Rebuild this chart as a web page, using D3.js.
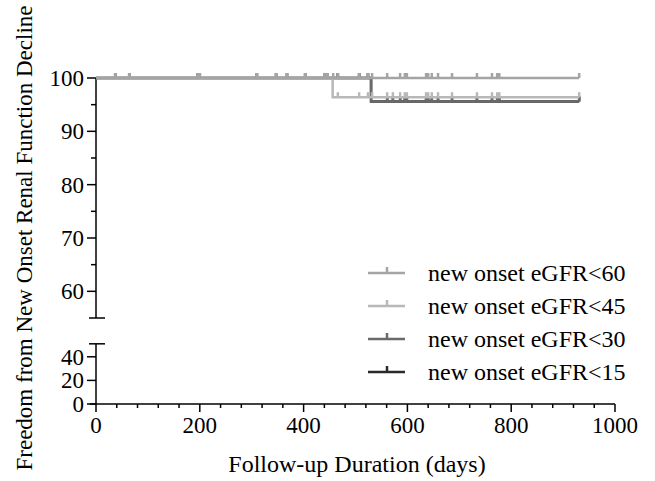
<!DOCTYPE html>
<html>
<head>
<meta charset="utf-8">
<script src="https://cdn.jsdelivr.net/npm/d3@7"></script>
<style>
  body { margin: 0; background: #fff; }
  svg { display: block; font-family: "Liberation Serif", "DejaVu Serif", serif; }
</style>
</head>
<body>
<svg id="chart" width="655" height="481"></svg>
<script>
var width = 655, height = 481

// series labels (legend order)
var labels = ['new onset eGFR<60', 'new onset eGFR<45', 'new onset eGFR<30', 'new onset eGFR<15']

// KM step points [day, survival %] for each series
var steps60 = [[0, 100], [931, 100]]
var steps45 = [[0, 100], [456, 96.4], [931, 96.4]]
var steps30 = [[0, 100], [530, 95.6], [931, 95.6]]
var steps15 = [[0, 100], [530, 95.6], [931, 95.6]]

// censored observations (days)
var censor60 = [37, 64, 196, 200, 310, 347, 368, 403, 441, 446, 457, 466, 507, 524, 532, 561, 586, 595, 599, 636, 640, 647, 659, 686, 734, 763, 773, 777, 931]
var censor45 = [37, 64, 196, 200, 310, 347, 368, 403, 441, 446, 466, 507, 524, 532, 561, 572, 586, 595, 599, 636, 640, 647, 659, 686, 734, 763, 773, 777, 931]
var censor30 = [37, 64, 196, 200, 310, 347, 368, 403, 441, 446, 466, 507, 524, 561, 572, 586, 595, 599, 636, 640, 647, 659, 686, 734, 763, 773, 777, 931]
var censor15 = [37, 64, 196, 200, 310, 347, 368, 403, 441, 446, 466, 507, 524, 561, 572, 586, 595, 599, 636, 640, 647, 659, 686, 734, 763, 773, 777, 931]

var xTicks = [0, 200, 400, 600, 800, 1000]
var yTicksTop = [60, 70, 80, 90, 100]
var yTicksBot = [0, 20, 40]

var colors = ['#a4a4a4', '#b8b8b8', '#6a6a6a', '#2a2a2a']

var series = [
  {label: labels[0], steps: steps60, censor: censor60, color: colors[0]},
  {label: labels[1], steps: steps45, censor: censor45, color: colors[1]},
  {label: labels[2], steps: steps30, censor: censor30, color: colors[2]},
  {label: labels[3], steps: steps15, censor: censor15, color: colors[3]}
]

var svg = d3.select('#chart')

var x = d3.scaleLinear().domain([0, 1000]).range([96, 615])
var yTop = d3.scaleLinear().domain([55, 100]).range([318, 78])
var yBot = d3.scaleLinear().domain([0, 50]).range([404, 345])

function survAt(steps, t) {
  var s = steps[0][1]
  steps.forEach(function(p) { if (p[0] <= t) s = p[1] })
  return s
}

// x axis
var xAxis = svg.append('g').attr('transform', 'translate(0,404)')
xAxis.append('line').attr('x1', x(0) - 6).attr('x2', x(1000)).attr('stroke', '#000').attr('stroke-width', 1.5)
xAxis.selectAll('.minor').data(d3.range(0, 1001, 40)).enter()
  .append('line')
  .attr('x1', d => x(d)).attr('x2', d => x(d))
  .attr('y1', 0).attr('y2', d => xTicks.indexOf(d) >= 0 ? 8 : 4)
  .attr('stroke', '#000').attr('stroke-width', 1.5)
xAxis.selectAll('.lab').data(xTicks).enter()
  .append('text')
  .attr('x', d => x(d)).attr('y', 29)
  .attr('text-anchor', 'middle')
  .style('font-size', '23px')
  .text(d => d)

// y axis upper segment
var yA = svg.append('g')
yA.append('line').attr('x1', 96).attr('x2', 96).attr('y1', yTop(100)).attr('y2', yTop(55)).attr('stroke', '#000').attr('stroke-width', 1.5)
yA.append('line').attr('x1', 89).attr('x2', 105).attr('y1', yTop(55)).attr('y2', yTop(55)).attr('stroke', '#000').attr('stroke-width', 1.5)
yA.selectAll('.t').data(d3.range(60, 101, 5)).enter()
  .append('line')
  .attr('x1', d => yTicksTop.indexOf(d) >= 0 ? 87 : 91).attr('x2', 96)
  .attr('y1', d => yTop(d)).attr('y2', d => yTop(d))
  .attr('stroke', '#000').attr('stroke-width', 1.5)
yA.selectAll('.l').data(yTicksTop).enter()
  .append('text')
  .attr('x', 84).attr('y', d => yTop(d) + 8)
  .attr('text-anchor', 'end')
  .style('font-size', '23px')
  .text(d => d)

// y axis lower segment
yA.append('line').attr('x1', 96).attr('x2', 96).attr('y1', yBot(51)).attr('y2', yBot(0)).attr('stroke', '#000').attr('stroke-width', 1.5)
yA.append('line').attr('x1', 89).attr('x2', 105).attr('y1', yBot(51)).attr('y2', yBot(51)).attr('stroke', '#000').attr('stroke-width', 1.5)
yA.selectAll('.tb').data(yTicksBot).enter()
  .append('line')
  .attr('x1', 87).attr('x2', 96)
  .attr('y1', d => yBot(d)).attr('y2', d => yBot(d))
  .attr('stroke', '#000').attr('stroke-width', 1.5)
yA.selectAll('.lb').data(yTicksBot).enter()
  .append('text')
  .attr('x', 84).attr('y', d => yBot(d) + 8)
  .attr('text-anchor', 'end')
  .style('font-size', '23px')
  .text(d => d)

// curves, darkest drawn first so the light ones sit on top
var line = d3.line()
  .x(d => x(d[0]))
  .y(d => yTop(d[1]))
  .curve(d3.curveStepAfter)

var plot = svg.append('g')
series.slice().reverse().forEach(function(s) {
  var g = plot.append('g')
  g.append('path')
    .attr('d', line(s.steps))
    .attr('fill', 'none')
    .attr('stroke', s.color)
    .attr('stroke-width', 2.5)
  g.selectAll('line').data(s.censor).enter()
    .append('line')
    .attr('x1', d => x(d)).attr('x2', d => x(d))
    .attr('y1', d => yTop(survAt(s.steps, d)))
    .attr('y2', d => yTop(survAt(s.steps, d)) - 5)
    .attr('stroke', s.color)
    .attr('stroke-width', 2.5)
})

// legend
var leg = svg.append('g')
series.forEach(function(s, i) {
  var yy = 273 + i * 33
  leg.append('line').attr('x1', 368).attr('x2', 405).attr('y1', yy).attr('y2', yy)
    .attr('stroke', s.color).attr('stroke-width', 2.5)
  leg.append('line').attr('x1', 387).attr('x2', 387).attr('y1', yy).attr('y2', yy - 6)
    .attr('stroke', s.color).attr('stroke-width', 2.5)
  leg.append('text').attr('x', 428).attr('y', yy + 8)
    .style('font-size', '24px')
    .text(s.label)
})

// axis titles
svg.append('text')
  .attr('x', 357).attr('y', 472)
  .attr('text-anchor', 'middle')
  .style('font-size', '24px')
  .text('Follow-up Duration (days)')

svg.append('text')
  .attr('transform', 'translate(32,238) rotate(-90)')
  .attr('text-anchor', 'middle')
  .style('font-size', '23px')
  .text('Freedom from New Onset Renal Function Decline')
</script>
</body>
</html>
